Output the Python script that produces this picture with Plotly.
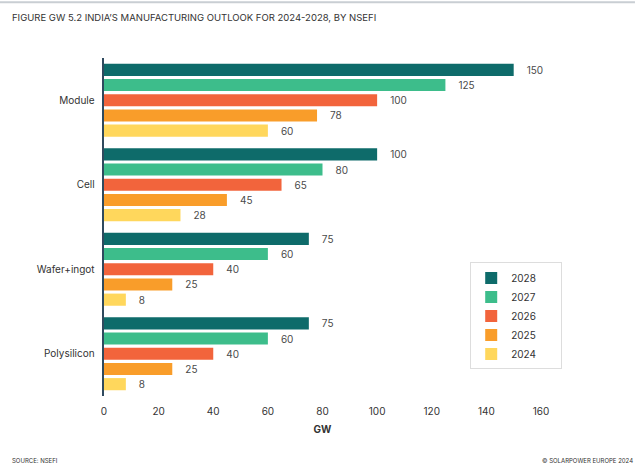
import plotly.graph_objects as go

categories = ["Module", "Cell", "Wafer+ingot", "Polysilicon"]
years = ["2028", "2027", "2026", "2025", "2024"]
values = {
    "2028": [150, 100, 75, 75],
    "2027": [125, 80, 60, 60],
    "2026": [100, 65, 40, 40],
    "2025": [78, 45, 25, 25],
    "2024": [60, 28, 8, 8],
}
colors = {
    "2028": "#0e6b6a",
    "2027": "#3dbd8b",
    "2026": "#f2643c",
    "2025": "#f99d2a",
    "2024": "#ffd75c",
}
x_ticks = [0, 20, 40, 60, 80, 100, 120, 140, 160]

fig = go.Figure()
for yr in years:
    fig.add_trace(go.Bar(
        y=categories, x=values[yr], name=yr + "\u2003\u2003", orientation="h",
        marker=dict(color=colors[yr], line=dict(width=0)),
        text=["\u2002\u2002" + str(v) for v in values[yr]], textposition="outside",
        textfont=dict(size=10, color="#4a4a4a", family="Inter"),
        cliponaxis=False,
    ))

fig.update_layout(
    width=635, height=463,
    margin=dict(l=104, r=94, t=58, b=67),
    paper_bgcolor="white", plot_bgcolor="white",
    barmode="group", bargap=0.1, bargroupgap=0.2,
    font=dict(family="Inter", color="#333333", size=10),
    showlegend=True,
    legend=dict(
        x=0.838, y=0.395, xanchor="left", yanchor="top",
        bordercolor="#dddddd", borderwidth=1, bgcolor="white",
        font=dict(size=10, color="#333333"),
        itemwidth=30, tracegroupgap=0,
    ),
    xaxis=dict(
        range=[0, 160], tickvals=x_ticks, showgrid=False, zeroline=False,
        showline=False, ticks="", ticklabelstandoff=8,
        tickfont=dict(size=10, color="#333333"),
        title=dict(text="<b>GW</b>", font=dict(size=10, color="#333333"), standoff=9),
    ),
    yaxis=dict(
        autorange="reversed", showgrid=False, zeroline=False,
        showline=True, linecolor="#2f4a5e", linewidth=1.5, ticks="",
        tickfont=dict(size=10, color="#333333"), ticksuffix="  ",
    ),
    shapes=[dict(type="line", xref="paper", yref="paper", x0=-0.238, x1=1.215,
                 y0=1.165, y1=1.165, line=dict(color="#c9ced3", width=2))],
    annotations=[
        dict(text="FIGURE GW 5.2 INDIA\u2019S MANUFACTURING OUTLOOK FOR 2024-2028, BY NSEFI",
             xref="paper", yref="paper", x=-0.215, y=1.12, xanchor="left", yanchor="middle",
             showarrow=False, font=dict(size=9.5, color="#333333")),
        dict(text="SOURCE: NSEFI", xref="paper", yref="paper", x=-0.215, y=-0.19,
             xanchor="left", yanchor="middle", showarrow=False,
             font=dict(size=6, color="#333333")),
        dict(text="\u00a9 SOLARPOWER EUROPE 2024", xref="paper", yref="paper", x=1.215, y=-0.19,
             xanchor="right", yanchor="middle", showarrow=False,
             font=dict(size=6, color="#333333")),
    ],
)

fig.write_html("out.html")
